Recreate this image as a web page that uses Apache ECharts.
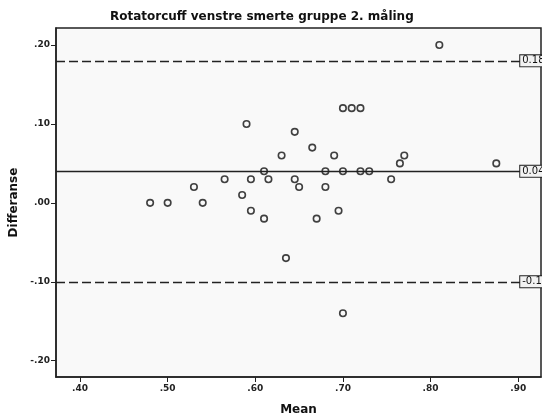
<!DOCTYPE html>
<html>
<head>
<meta charset="utf-8">
<script src="https://cdn.jsdelivr.net/npm/echarts@6/dist/echarts.min.js"></script>
<style>
  html, body { margin: 0; padding: 0; background: #ffffff; }
  #chart { width: 542px; height: 419px; }
</style>
</head>
<body>
<div id="chart"></div>
<script>
// Bland-Altman plot: mean of the two measurements vs. their difference
const meanValues = [0.48, 0.50, 0.53, 0.54, 0.565, 0.585, 0.59, 0.595, 0.595, 0.61, 0.61, 0.615,
  0.63, 0.635, 0.645, 0.645, 0.65, 0.665, 0.67, 0.68, 0.68, 0.69, 0.695, 0.70, 0.70, 0.70,
  0.71, 0.72, 0.72, 0.73, 0.755, 0.765, 0.77, 0.81, 0.875];
const diffValues = [0.00, 0.00, 0.02, 0.00, 0.03, 0.01, 0.10, -0.01, 0.03, 0.04, -0.02, 0.03,
  0.06, -0.07, 0.09, 0.03, 0.02, 0.07, -0.02, 0.04, 0.02, 0.06, -0.01, 0.04, 0.12, -0.14,
  0.12, 0.12, 0.04, 0.04, 0.03, 0.05, 0.06, 0.20, 0.05];

// Mean difference and limits of agreement
const meanDiff = 0.04;
const upperLimit = 0.18;
const lowerLimit = -0.10;

const xTicks = [0.40, 0.50, 0.60, 0.70, 0.80, 0.90];
const yTicks = [-0.20, -0.10, 0.00, 0.10, 0.20];

const X_MIN = 0.3726, X_MAX = 0.926;
const Y_MIN = -0.2207, Y_MAX = 0.2216;
const LINE_END = 0.9023;

const points = meanValues.map((m, i) => [m, diffValues[i]]);

function tickText(v) {
  const s = Math.abs(v).toFixed(2).replace(/^0/, '');
  return (v < 0 ? '-' : '') + s;
}

function refLine(value, dashed) {
  return [
    { coord: [X_MIN, value], lineStyle: { type: dashed ? [9, 4] : 'solid' }, label: { formatter: value.toFixed(2) } },
    { coord: [LINE_END, value] }
  ];
}

const axisText = { color: '#222', fontSize: 9, fontWeight: 'bold', fontFamily: 'DejaVu Sans' };
const nameText = { fontSize: 12, fontWeight: 'bold', color: '#111', fontFamily: 'DejaVu Sans' };

const chart = echarts.init(document.getElementById('chart'), null, { renderer: 'canvas' });
chart.setOption({
  animation: false,
  backgroundColor: '#ffffff',
  title: {
    text: 'Rotatorcuff venstre smerte gruppe 2. måling',
    left: 105,
    top: 6,
    textStyle: { fontSize: 12, fontWeight: 'bold', color: '#111', fontFamily: 'DejaVu Sans' }
  },
  grid: {
    left: 56, top: 28, right: 1, bottom: 42,
    containLabel: false,
    outerBoundsMode: 'none',
    show: true,
    backgroundColor: '#f9f9f9',
    borderColor: '#222',
    borderWidth: 1.5
  },
  xAxis: {
    type: 'value',
    min: X_MIN, max: X_MAX,
    name: 'Mean',
    nameLocation: 'middle',
    nameGap: 27,
    nameTextStyle: nameText,
    axisLine: { show: true, onZero: false, lineStyle: { color: '#222', width: 1.5 } },
    axisTick: { show: true, inside: false, length: 5, customValues: xTicks, lineStyle: { color: '#222', width: 1 } },
    axisLabel: Object.assign({ customValues: xTicks, margin: 7, formatter: tickText }, axisText),
    splitLine: { show: false }
  },
  yAxis: {
    type: 'value',
    min: Y_MIN, max: Y_MAX,
    name: 'Differanse',
    nameLocation: 'middle',
    nameGap: 34,
    nameRotate: 90,
    nameTextStyle: nameText,
    axisLine: { show: true, onZero: false, lineStyle: { color: '#222', width: 1.5 } },
    axisTick: { show: true, inside: false, length: 5, customValues: yTicks, lineStyle: { color: '#222', width: 1 } },
    axisLabel: Object.assign({ customValues: yTicks, margin: 6, formatter: tickText }, axisText),
    splitLine: { show: false }
  },
  series: [{
    type: 'scatter',
    data: points,
    symbol: 'circle',
    symbolSize: 6.5,
    itemStyle: { color: 'rgba(0,0,0,0)', borderColor: '#111', borderWidth: 1.6 },
    z: 3,
    markLine: {
      silent: true,
      symbol: ['none', 'none'],
      lineStyle: { color: '#222', width: 1.3 },
      label: {
        show: true,
        position: 'end',
        distance: 0,
        fontSize: 10,
        fontFamily: 'DejaVu Sans',
        color: '#111',
        backgroundColor: '#f2f2f2',
        borderColor: '#222',
        borderWidth: 1,
        padding: [1, 2, 0, 2]
      },
      data: [
        refLine(upperLimit, true),
        refLine(meanDiff, false),
        refLine(lowerLimit, true)
      ]
    }
  }]
});
</script>
</body>
</html>
